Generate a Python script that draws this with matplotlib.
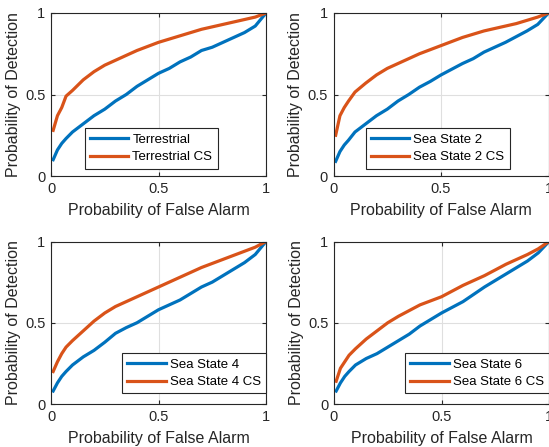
import matplotlib
matplotlib.use("Agg")
import matplotlib.pyplot as plt

plt.rcParams['font.family'] = ['Liberation Sans', 'DejaVu Sans']

# ---- data ----
pfa = [0.01, 0.03, 0.05, 0.07, 0.1, 0.15, 0.2, 0.25, 0.3, 0.35, 0.4, 0.45, 0.5,
       0.55, 0.6, 0.65, 0.7, 0.75, 0.8, 0.85, 0.9, 0.95, 1.0]

terr = [0.10, 0.16, 0.20, 0.23, 0.27, 0.32, 0.37, 0.41, 0.46, 0.50, 0.55, 0.59, 0.63,
        0.66, 0.70, 0.73, 0.77, 0.79, 0.82, 0.85, 0.88, 0.92, 1.0]
terr_cs = [0.28, 0.37, 0.42, 0.49, 0.525, 0.59, 0.64, 0.68, 0.71, 0.74, 0.77, 0.795, 0.82,
           0.84, 0.86, 0.88, 0.90, 0.915, 0.93, 0.945, 0.96, 0.975, 1.0]

ss2 = [0.09, 0.15, 0.19, 0.22, 0.27, 0.32, 0.37, 0.41, 0.46, 0.50, 0.545, 0.58, 0.62,
       0.655, 0.69, 0.72, 0.76, 0.79, 0.82, 0.855, 0.89, 0.93, 1.0]
ss2_cs = [0.25, 0.37, 0.42, 0.46, 0.515, 0.57, 0.62, 0.66, 0.69, 0.72, 0.75, 0.775, 0.80,
          0.825, 0.85, 0.87, 0.89, 0.905, 0.92, 0.935, 0.955, 0.975, 1.0]

ss4 = [0.08, 0.13, 0.17, 0.20, 0.24, 0.29, 0.33, 0.38, 0.435, 0.47, 0.50, 0.54, 0.58,
       0.61, 0.64, 0.68, 0.72, 0.75, 0.79, 0.83, 0.87, 0.92, 1.0]
ss4_cs = [0.20, 0.26, 0.31, 0.35, 0.39, 0.45, 0.51, 0.56, 0.60, 0.63, 0.66, 0.69, 0.72,
          0.75, 0.78, 0.81, 0.84, 0.865, 0.89, 0.915, 0.94, 0.965, 1.0]

ss6 = [0.08, 0.13, 0.17, 0.20, 0.24, 0.28, 0.31, 0.35, 0.39, 0.43, 0.48, 0.52, 0.56,
       0.595, 0.63, 0.675, 0.72, 0.76, 0.80, 0.84, 0.88, 0.93, 1.0]
ss6_cs = [0.14, 0.22, 0.26, 0.30, 0.34, 0.40, 0.45, 0.50, 0.54, 0.575, 0.61, 0.635, 0.66,
          0.695, 0.73, 0.76, 0.79, 0.825, 0.86, 0.89, 0.92, 0.955, 1.0]

labels = [("Terrestrial", "Terrestrial CS"),
          ("Sea State 2", "Sea State 2 CS"),
          ("Sea State 4", "Sea State 4 CS"),
          ("Sea State 6", "Sea State 6 CS")]
series = [(terr, terr_cs), (ss2, ss2_cs), (ss4, ss4_cs), (ss6, ss6_cs)]

# ---- layout ----
W, H = 549, 447
fig = plt.figure(figsize=(W / 100, H / 100), dpi=100)
rects = [(51, 13, 215, 163), (333.5, 13, 215, 163),
         (51, 241.5, 215, 162.5), (334, 241.5, 215, 162.5)]
leg_anchor = [(0.775, 0.045), (0.82, 0.045), (1.0, 0.065), (1.0, 0.065)]

blue = '#0072BD'
orange = '#D95319'
axc = '#262626'

for i, (r, (b, o), (lb, lo)) in enumerate(zip(rects, series, labels)):
    x, y, w, h = r
    ax = fig.add_axes([x / W, 1 - (y + h) / H, w / W, h / H])
    ax.plot(pfa, b, color=blue, lw=2.3, label=lb)
    ax.plot(pfa, o, color=orange, lw=2.3, label=lo)
    ax.set_xlim(0, 1)
    ax.set_ylim(0, 1)
    ax.set_xticks([0, 0.5, 1])
    ax.set_yticks([0, 0.5, 1])
    ax.set_xticklabels(['0', '0.5', '1'])
    ax.set_yticklabels(['0', '0.5', '1'])
    ax.grid(True, color='#DFDFDF', lw=0.8)
    ax.set_axisbelow(True)
    ax.tick_params(direction='in', top=True, right=True, length=3, width=0.8,
                   colors=axc, labelsize=10.5, pad=4)
    for s in ax.spines.values():
        s.set_color(axc)
        s.set_linewidth(0.8)
    ax.set_xlabel('Probability of False Alarm', fontsize=11.5, color=axc, labelpad=5)
    ax.set_ylabel('Probability of Detection', fontsize=11.5, color=axc, labelpad=3)
    leg = ax.legend(loc='lower right', bbox_to_anchor=leg_anchor[i], fontsize=9.5,
                    fancybox=False, edgecolor=axc, framealpha=1, handlelength=2.9,
                    borderaxespad=0, handletextpad=0.3, labelspacing=0.4,
                    borderpad=0.4)
    leg.get_frame().set_linewidth(0.8)

fig.savefig('out.png', dpi=100)
